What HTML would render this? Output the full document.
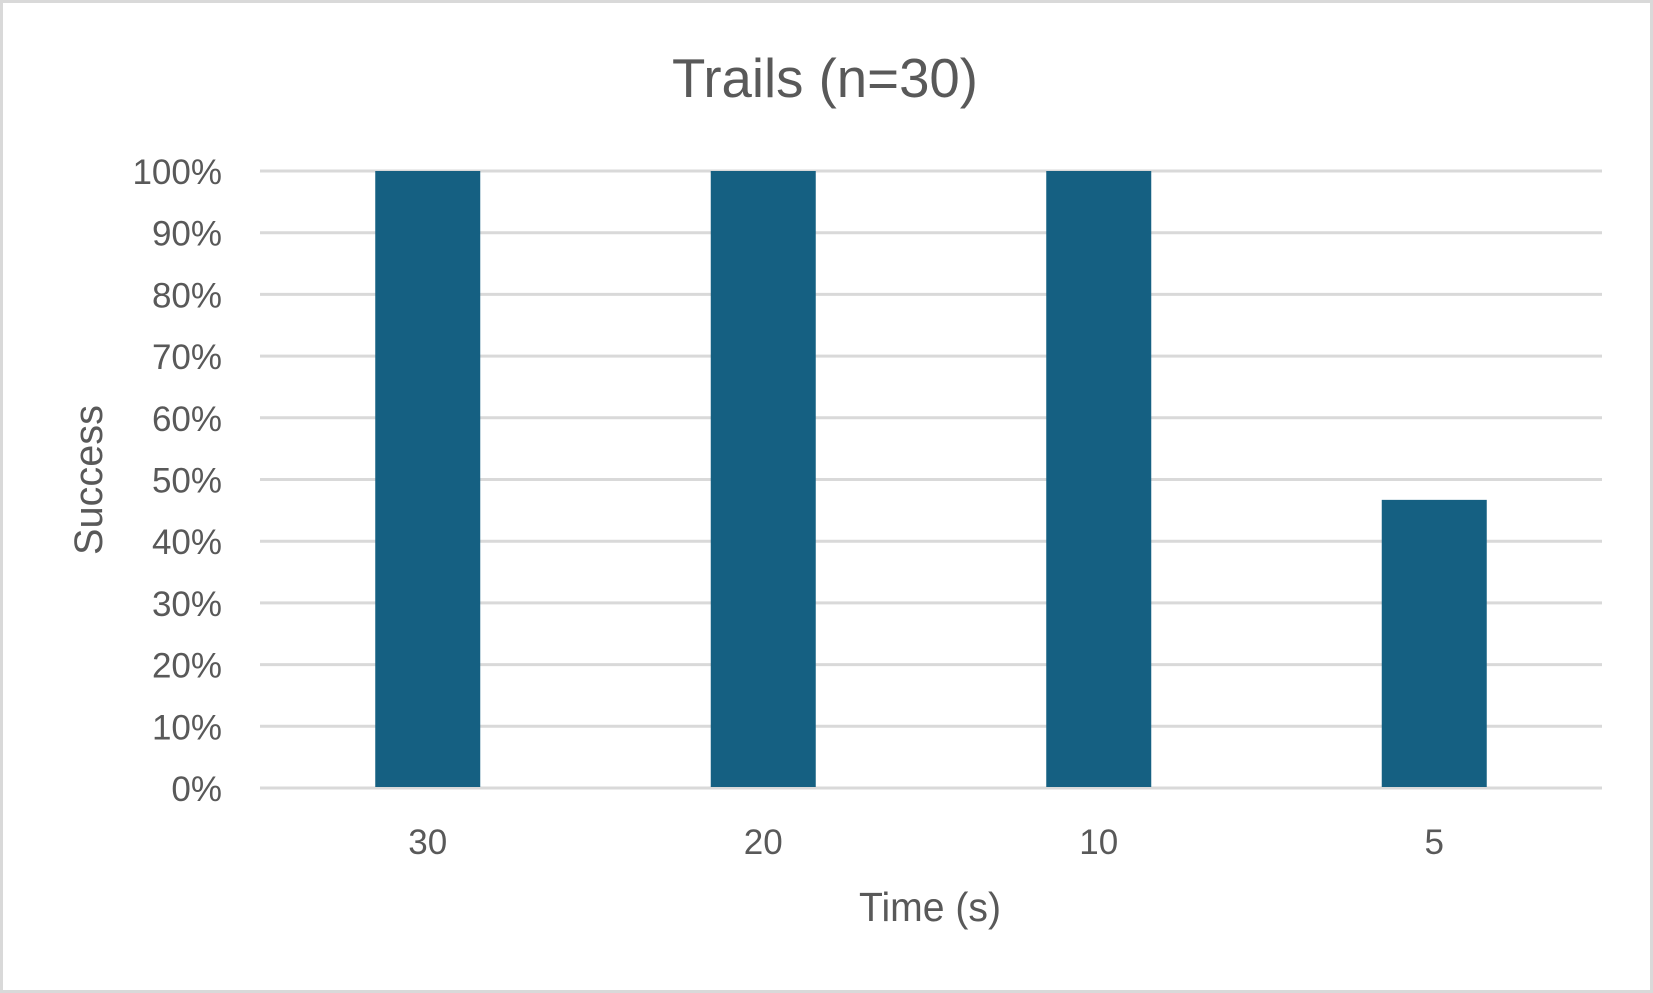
<!DOCTYPE html>
<html><head><meta charset="utf-8"><style>
html,body{margin:0;padding:0;background:#fff;}
svg{display:block;}
text{font-family:"Liberation Sans",sans-serif;fill:#595959;}
</style></head><body>
<svg id="chart" width="1653" height="993" viewBox="0 0 1653 993">
<rect x="1.5" y="1.5" width="1650" height="990" fill="#fff" stroke="#d9d9d9" stroke-width="3"/>
<text x="825" y="97" font-size="55" text-anchor="middle" textLength="306" lengthAdjust="spacingAndGlyphs">Trails (n=30)</text>
<g id="grid"></g>
<g id="yticks"></g>
<g id="bars"></g>
<g id="xticks"></g>
<text x="0" y="0" font-size="40" text-anchor="middle" transform="translate(102,480) rotate(-90)" textLength="150" lengthAdjust="spacingAndGlyphs">Success</text>
<text x="930" y="921" font-size="41" text-anchor="middle" textLength="142" lengthAdjust="spacingAndGlyphs">Time (s)</text>
</svg>
<script>
const categories = ["30","20","10","5"];
const successValues = [1.0, 1.0, 1.0, 0.467];
const yTickValues = [0,0.1,0.2,0.3,0.4,0.5,0.6,0.7,0.8,0.9,1.0];
const yTickLabels = ["0%","10%","20%","30%","40%","50%","60%","70%","80%","90%","100%"];

const NS="http://www.w3.org/2000/svg";
const plotL=260, plotR=1602, plotT=171, plotB=788;
const yScale=v=>plotB-(plotB-plotT)*v;
const band=(plotR-plotL)/categories.length;
const xCenter=i=>plotL+band*(i+0.5);
const barW=105;
function mk(tag,attrs){const e=document.createElementNS(NS,tag);for(const k in attrs)e.setAttribute(k,attrs[k]);return e;}
const grid=document.getElementById('grid'), yt=document.getElementById('yticks');
yTickValues.forEach((v,i)=>{
  const y=yScale(v);
  const l=mk('line',{x1:plotL,x2:plotR,y1:y,y2:y,stroke:'#d9d9d9','stroke-width':3});
  
  
  grid.appendChild(l);
  const t=mk('text',{x:222,y:y+13,'font-size':35,'text-anchor':'end'});
  
  
  t.textContent=yTickLabels[i];
  yt.appendChild(t);
});
const bars=document.getElementById('bars'), xt=document.getElementById('xticks');
categories.forEach((c,i)=>{
  const cx=xCenter(i), y=yScale(successValues[i]);
  const r=mk('rect',{x:cx-barW/2,y:y,width:barW,height:plotB-1-y,fill:'#156082'});
  
  
  bars.appendChild(r);
  const t=mk('text',{x:cx,y:854,'font-size':35,'text-anchor':'middle'});
  
  
  t.textContent=c;
  xt.appendChild(t);
});
</script>
</body></html>
